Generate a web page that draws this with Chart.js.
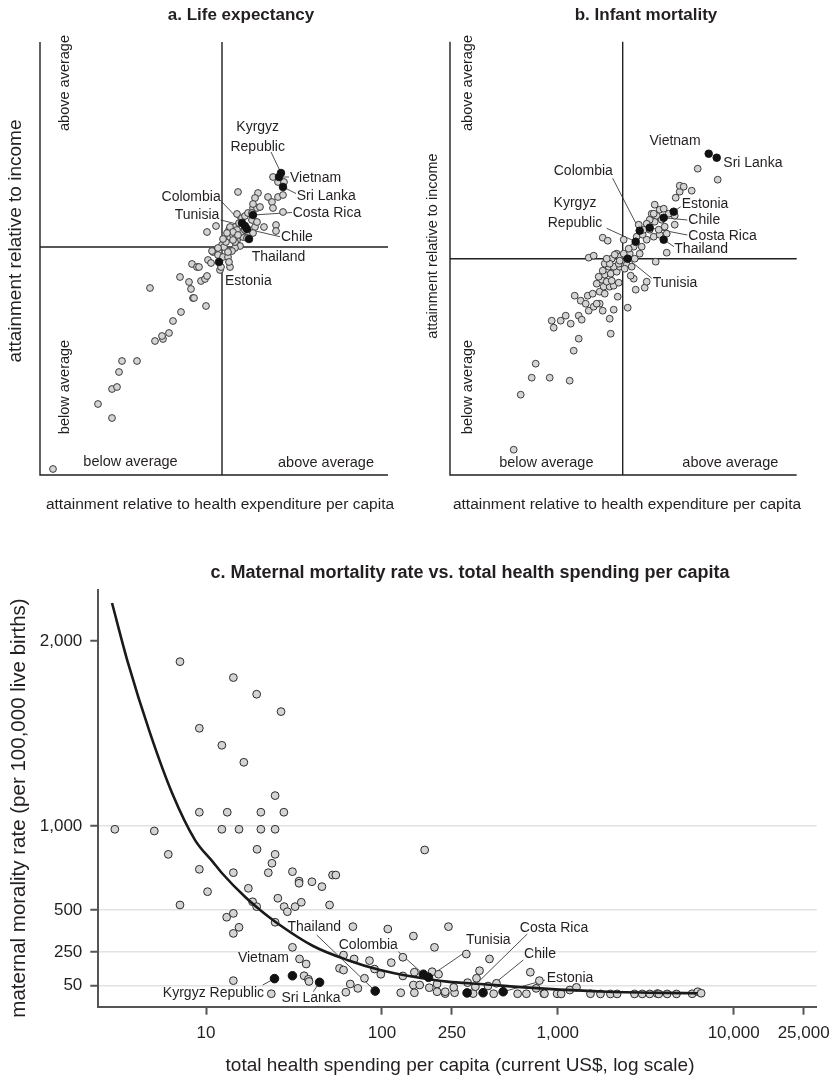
<!DOCTYPE html>
<html><head><meta charset="utf-8">
<script src="https://cdn.jsdelivr.net/npm/chart.js@4.4.0/dist/chart.umd.min.js"></script>
<style>
html,body{margin:0;padding:0;background:#fff;}
#wrap{position:relative;width:838px;height:1090px;overflow:hidden;}
canvas{position:absolute;}
</style></head><body>
<div id="wrap">
<canvas id="ca" width="419" height="530" style="left:0;top:0;width:419px;height:530px"></canvas>
<canvas id="cb" width="419" height="530" style="left:419px;top:0;width:419px;height:530px"></canvas>
<canvas id="cc" width="838" height="550" style="left:0;top:540px;width:838px;height:550px"></canvas>
</div>
<script>
// ---------------- DATA ----------------
const countries = ['Kyrgyz Republic','Vietnam','Sri Lanka','Thailand','Colombia','Tunisia','Costa Rica','Chile','Estonia'];

// a. Life expectancy (relative units; 0 = average)
const lifeHighX = [0.59,0.57,0.61,0.27,0.20,0.23,0.31,0.25,-0.03];
const lifeHighY = [0.74,0.70,0.60,0.08,0.24,0.21,0.32,0.18,-0.15];
const lifeOthers = [
[-1.69,-2.22],[-1.10,-1.71],[-1.24,-1.57],[-1.10,-1.42],[-1.05,-1.40],[-1.03,-1.25],[-1.00,-1.14],[-0.85,-1.14],[-0.67,-0.94],[-0.59,-0.92],[-0.60,-0.89],[-0.53,-0.86],[-0.49,-0.74],[-0.41,-0.65],[-0.72,-0.41],[-0.16,-0.59],[-0.29,-0.51],[-0.28,-0.51],[-0.31,-0.42],[-0.33,-0.35],[-0.42,-0.30],[-0.21,-0.34],[-0.17,-0.32],[-0.15,-0.29],[-0.30,-0.17],[-0.25,-0.20],[-0.23,-0.20],[-0.14,-0.13],[-0.11,-0.16],[-0.02,-0.23],[-0.01,-0.20],[-0.09,-0.05],[-0.04,-0.08],[0.01,-0.10],[0.06,-0.10],[0.08,-0.20],[0.07,-0.15],[-0.10,-0.04],[0.00,0.02],[0.02,0.00],[0.04,0.05],[0.08,0.10],[0.11,0.12],[0.15,0.07],[0.07,0.17],[0.13,0.20],[0.17,0.24],[0.15,0.33],[0.20,0.29],[0.23,0.31],[0.26,0.34],[0.31,0.39],[0.35,0.39],[0.38,0.40],[0.30,0.27],[0.33,0.20],[0.26,0.14],[0.21,0.10],[0.19,0.15],[0.15,0.17],[0.18,0.01],[0.13,-0.01],[0.10,-0.04],[0.06,-0.05],[0.13,0.05],[0.25,0.09],[0.31,0.14],[0.35,0.25],[0.42,0.20],[0.54,0.22],[0.54,0.16],[-0.06,0.21],[-0.15,0.15],[0.08,0.20],[0.11,0.15],[0.05,0.14],[0.01,0.08],[-0.04,-0.01],[0.16,0.55],[0.36,0.54],[0.33,0.49],[0.46,0.50],[0.50,0.45],[0.51,0.39],[0.56,0.50],[0.61,0.52],[0.61,0.35],[0.51,0.70],[0.56,0.65],[0.62,0.65],[0.11,0.07],[0.16,0.12],[0.23,0.17],[0.30,0.34],[0.31,0.43]
];

// b. Infant mortality (relative units; 0 = average)
const infantHighX = [0.13,0.86,0.94,0.41,0.17,0.05,0.27,0.41,0.51];
const infantHighY = [0.17,1.05,1.01,0.19,0.28,0.00,0.31,0.41,0.47];
const infantOthers = [
[-1.09,-1.91],[-1.02,-1.36],[-0.91,-1.19],[-0.87,-1.05],[-0.73,-1.19],[-0.53,-1.22],[-0.49,-0.92],[-0.44,-0.80],[-0.12,-0.75],[-0.69,-0.69],[-0.71,-0.62],[-0.62,-0.62],[-0.57,-0.57],[-0.52,-0.65],[-0.44,-0.57],[-0.41,-0.61],[-0.13,-0.60],[-0.20,-0.52],[-0.09,-0.51],[0.05,-0.49],[-0.34,-0.52],[-0.29,-0.48],[-0.23,-0.45],[-0.26,-0.45],[-0.42,-0.42],[-0.37,-0.45],[-0.48,-0.37],[-0.35,-0.37],[-0.30,-0.35],[-0.05,-0.38],[-0.23,-0.33],[-0.19,-0.28],[-0.13,-0.28],[-0.09,-0.27],[-0.04,-0.24],[-0.21,-0.21],[-0.16,-0.23],[-0.11,-0.22],[-0.18,-0.16],[-0.12,-0.15],[-0.20,-0.12],[-0.06,-0.13],[-0.03,-0.08],[-0.14,-0.08],[-0.09,-0.08],[-0.18,-0.05],[-0.11,0.00],[-0.06,0.05],[-0.03,0.02],[0.01,-0.05],[0.04,-0.06],[0.09,-0.08],[0.11,-0.20],[0.08,-0.17],[0.13,-0.31],[0.22,-0.29],[0.24,-0.23],[0.33,-0.03],[0.44,0.06],[-0.34,0.01],[-0.29,0.03],[-0.20,0.21],[-0.15,0.18],[0.01,0.19],[-0.08,0.04],[0.07,0.05],[0.12,0.00],[0.17,0.05],[0.19,0.12],[0.11,0.12],[0.14,0.22],[0.20,0.24],[0.24,0.19],[0.31,0.22],[0.37,0.24],[0.44,0.25],[0.36,0.29],[0.42,0.32],[0.32,0.37],[0.27,0.39],[0.24,0.35],[0.29,0.45],[0.34,0.43],[0.37,0.49],[0.32,0.54],[0.41,0.50],[0.46,0.45],[0.52,0.43],[0.52,0.34],[0.16,0.34],[0.21,0.29],[0.53,0.61],[0.57,0.67],[0.57,0.73],[0.61,0.72],[0.69,0.68],[0.75,0.90],[0.95,0.79],[-0.04,-0.05],[0.01,0.05],[0.06,0.10],[-0.13,-0.05],[-0.16,0.00],[-0.03,-0.02],[0.02,-0.10],[-0.24,-0.18],[-0.26,-0.25],[-0.18,-0.35],[0.27,0.29],[0.31,0.45],[0.39,0.39]
];

// c. Maternal mortality vs. total health spending per capita
const mmHighSpend = [24.5,31.0,44.2,91.6,172,184,305,376,489];
const mmHighRate  = [92,109,70,18,118,100,7,8,14];
const mmOthers = [
[3.03,980],[5.08,970],[6.10,831],[7.11,1888],[9.16,1528],[9.16,1074],[9.16,742],[10.2,609],[12.3,1436],[12.3,980],[13.2,1074],[14.3,1802],[14.3,722],[15.4,980],[16.4,1344],[17.4,629],[19.4,1712],[19.5,861],[20.5,1074],[20.5,980],[24.7,1164],[24.7,980],[24.7,831],[23.7,778],[22.6,722],[26.7,1618],[27.7,1074],[31.0,728],[33.8,672],[33.8,659],[40,668],[45.6,639],[52.4,708],[54.7,708],
[7.11,530],[18.4,549],[19.4,520],[25.6,570],[27.8,520],[29.0,490],[32.1,520],[34.8,546],[50.4,530],[13.1,457],[14.3,480],[15.4,397],[14.3,361],[24.7,427],[31.0,278],[34.0,209],[37.1,179],[36.1,109],[38.2,88],[38.5,75],[14.3,80],[23.5,2],
[68.4,401],[60.5,232],[69.5,209],[57.4,153],[60.5,143],[85,199],[79.6,94],[66.1,60],[73,34],[62.4,11],[90.8,149],[98.6,118],[113,187],[108,387],[131.6,219],[131.6,108],[128,8],[151,345],[153,130],[151,54],[153,8],[164,54],[193,133],[210,118],[186,38],[206,60],[206,14],[229,3],[199,278],[239,401],[259,8],[175,857],
[302,238],[409,209],[359,139],[345,94],[307,68],[256,40],[229,14],[330,3],[340,44],[401,48],[448,64],[432,2],[591,2],[663,2],[698,130],[786,80],[753,34],[832,3],[840,2],[991,2],[1045,1],[1170,24],[1277,40],[1534,2],[1749,1],[1992,1],[2174,1],[2729,1],[3020,1],[3334,1],[3673,3],[3752,1],[4188,1],[4729,1],[5808,2],[6250,14],[6534,5]
];
const fitSpend = [2.92,3.60,4.80,6.41,8.66,10.96,12.3,16.7,20.3,25.3,40.6,63.5,97.7,151,235,362,796,1914,6220];
const fitRate  = [2205,1881,1503,1178,916,785,720,577,500,423,286,203,143,103,74,60,34,14,5];
const spendTicks = [10,100,250,1000,10000,25000];
const rateTicks = [50,250,500,1000,2000];

// ---------------- STYLE / HELPERS ----------------
const FF = "'Liberation Sans', Arial, sans-serif";
Chart.defaults.font.family = FF;
const INK = '#231f20';

function txt(ctx, s, x, y, font, align, rot){
  ctx.save(); ctx.font = font; ctx.fillStyle = INK; ctx.textAlign = align || 'center'; ctx.textBaseline = 'middle';
  ctx.translate(x, y); if (rot) ctx.rotate(-Math.PI/2); ctx.fillText(s, 0, 0); ctx.restore();
}

function panelPlugin(spec){
  return {
    id: 'panel_' + spec.id,
    beforeDatasetsDraw(chart){
      const {ctx, chartArea:a, scales:{x, y}} = chart;
      ctx.save();
      if (spec.quadrants){
        ctx.strokeStyle = INK; ctx.lineWidth = 1.4;
        const x0 = x.getPixelForValue(0), y0 = y.getPixelForValue(0);
        ctx.beginPath();
        ctx.moveTo(a.left, a.top); ctx.lineTo(a.left, a.bottom); ctx.lineTo(a.right, a.bottom);
        ctx.moveTo(x0, a.top); ctx.lineTo(x0, a.bottom);
        ctx.moveTo(a.left, y0); ctx.lineTo(a.right, y0);
        ctx.stroke();
      }
      ctx.strokeStyle = '#222'; ctx.lineWidth = 0.8;
      spec.labels.forEach(l => {
        if (!l.leader) return;
        const el = chart.getDatasetMeta(spec.hiDs).data[l.idx];
        ctx.beginPath(); ctx.moveTo(l.leader[0], l.leader[1]); ctx.lineTo(el.x, el.y); ctx.stroke();
      });
      ctx.restore();
    },
    afterDatasetsDraw(chart){
      const ctx = chart.ctx;
      spec.texts.forEach(t => txt(ctx, t.s, t.x, t.y, t.font, t.align, t.rot));
      spec.labels.forEach(l => {
        const name = countries[l.idx];
        const lines = l.split ? name.split(' ') : [name];
        lines.forEach((ln, k) => txt(ctx, ln, l.x, l.y + k*20, spec.labelFont, l.align || 'left'));
      });
    }
  };
}

const ptGrey = {pointRadius:3.4, pointBackgroundColor:'#d4d4d4', pointBorderColor:'#2a2a2a', pointBorderWidth:0.9};
const ptBlack = {pointRadius:3.8, pointBackgroundColor:'#111', pointBorderColor:'#111', pointBorderWidth:0.9};
const baseOpts = {responsive:false, animation:false, events:[], plugins:{legend:{display:false}, tooltip:{enabled:false}, title:{display:false}}};

// ---------------- PANEL A ----------------
const specA = {
  id:'a', quadrants:true, hiDs:1, labelFont:'14px ' + FF,
  texts:[
    {s:'a. Life expectancy', x:241, y:15, font:'bold 17px ' + FF},
    {s:'attainment relative to income', x:16, y:241, font:'19px ' + FF, rot:true},
    {s:'attainment relative to health expenditure per capita', x:220, y:505, font:'15.5px ' + FF},
    {s:'above average', x:65, y:83, font:'14.5px ' + FF, rot:true},
    {s:'below average', x:65, y:387, font:'14.5px ' + FF, rot:true},
    {s:'below average', x:130.5, y:462, font:'14.5px ' + FF},
    {s:'above average', x:326, y:463, font:'14.5px ' + FF}
  ],
  labels:[
    {idx:0, split:true, x:257.7, y:126.7, align:'center', leader:[271,152]},
    {idx:1, x:290, y:177.7, leader:[289,177]},
    {idx:2, x:296.7, y:195.7, leader:[296,193.5]},
    {idx:6, x:292.7, y:212.7, leader:[292,212.5]},
    {idx:4, x:220.7, y:196.7, align:'right', leader:[221.7,201.7]},
    {idx:5, x:219.3, y:215, align:'right', leader:[220.7,220]},
    {idx:7, x:281, y:236.7, leader:[280,236.7]},
    {idx:3, x:251.7, y:256.7},
    {idx:8, x:225, y:280.7}
  ]
};
new Chart(document.getElementById('ca'), {
  type:'scatter',
  data:{datasets:[
    Object.assign({data: lifeOthers.map(([x,y]) => ({x, y})), order:2}, ptGrey),
    Object.assign({data: lifeHighX.map((x,i) => ({x, y: lifeHighY[i]})), order:1}, ptBlack)
  ]},
  options: Object.assign({}, baseOpts, {
    layout:{padding:{left:40, right:31, top:42, bottom:55}},
    scales:{x:{type:'linear', min:-1.82, max:1.66, display:false}, y:{type:'linear', min:-2.28, max:2.05, display:false}}
  }),
  plugins:[panelPlugin(specA)]
});

// ---------------- PANEL B ----------------
const specB = {
  id:'b', quadrants:true, hiDs:1, labelFont:'14px ' + FF,
  texts:[
    {s:'b. Infant mortality', x:227, y:15, font:'bold 17px ' + FF},
    {s:'attainment relative to income', x:14, y:246, font:'14.5px ' + FF, rot:true},
    {s:'attainment relative to health expenditure per capita', x:208, y:505, font:'15.5px ' + FF},
    {s:'above average', x:49.3, y:83, font:'14.5px ' + FF, rot:true},
    {s:'below average', x:49.3, y:387, font:'14.5px ' + FF, rot:true},
    {s:'below average', x:127.3, y:463, font:'14.5px ' + FF},
    {s:'above average', x:311.3, y:462.7, font:'14.5px ' + FF}
  ],
  labels:[
    {idx:1, x:256, y:140.7, align:'center'},
    {idx:2, x:304.3, y:162.7},
    {idx:4, x:164.3, y:170.7, align:'center', leader:[193.7,178.3]},
    {idx:0, split:true, x:156, y:202.7, align:'center', leader:[187.7,228.3]},
    {idx:8, x:262.7, y:204, leader:[261.7,206.7]},
    {idx:7, x:269.3, y:220, leader:[268.3,220]},
    {idx:6, x:269.3, y:235.7, leader:[268.3,235]},
    {idx:3, x:255.3, y:249.3, leader:[255,246.7]},
    {idx:5, x:233.7, y:283.3, leader:[232.7,278.3]}
  ]
};
new Chart(document.getElementById('cb'), {
  type:'scatter',
  data:{datasets:[
    Object.assign({data: infantOthers.map(([x,y]) => ({x, y})), order:2}, ptGrey),
    Object.assign({data: infantHighX.map((x,i) => ({x, y: infantHighY[i]})), order:1}, ptBlack)
  ]},
  options: Object.assign({}, baseOpts, {
    layout:{padding:{left:31, right:41.3, top:41.7, bottom:55}},
    scales:{x:{type:'linear', min:-1.727, max:1.74, display:false}, y:{type:'linear', min:-2.163, max:2.17, display:false}}
  }),
  plugins:[panelPlugin(specB)]
});

// ---------------- PANEL C ----------------
// y axis of the original is linear up to 1,000 and slightly stretched above it
const STRETCH = 1.1;
const warp = v => v <= 1000 ? v : 1000 + (v - 1000) * STRETCH;
const unwarp = u => u <= 1000 ? u : 1000 + (u - 1000) / STRETCH;
class StretchLinearScale extends Chart.LinearScale {
  getPixelForValue(value){
    if (value === null || value === undefined || isNaN(value)) return NaN;
    return super.getPixelForValue(warp(value));
  }
  getValueForPixel(pixel){ return unwarp(super.getValueForPixel(pixel)); }
}
StretchLinearScale.id = 'stretchLinear';
StretchLinearScale.defaults = Chart.LinearScale.defaults;
Chart.register(StretchLinearScale);

const fmt = v => Number(v).toLocaleString('en-US');
const specC = {
  id:'c', quadrants:false, hiDs:2, labelFont:'14px ' + FF,
  texts:[
    {s:'c. Maternal mortality rate vs. total health spending per capita', x:470, y:33.5, font:'bold 18px ' + FF},
    {s:'maternal morality rate (per 100,000 live births)', x:19, y:268, font:'20.5px ' + FF, rot:true},
    {s:'total health spending per capita (current US$, log scale)', x:460, y:526, font:'19px ' + FF}
  ],
  labels:[
    {idx:3, x:314.3, y:386.7, align:'center', leader:[316.7,395]},
    {idx:4, x:368.3, y:405, align:'center', leader:[398.3,411.7]},
    {idx:1, x:289, y:418.3, align:'right'},
    {idx:0, x:264, y:453.3, align:'right', leader:[262.7,445]},
    {idx:2, x:311, y:458.3, align:'center', leader:[313.3,451.7]},
    {idx:5, x:488.3, y:400, align:'center', leader:[468.3,410]},
    {idx:6, x:554, y:388.3, align:'center', leader:[527.3,394]},
    {idx:7, x:540, y:414, align:'center', leader:[523.3,420]},
    {idx:8, x:546.7, y:438.3, leader:[545,440]}
  ]
};
new Chart(document.getElementById('cc'), {
  type:'scatter',
  data:{datasets:[
    Object.assign({data: mmOthers.map(([x,y]) => ({x, y})), order:3}, {pointRadius:3.9, pointBackgroundColor:'#d4d4d4', pointBorderColor:'#2a2a2a', pointBorderWidth:1}),
    {data: fitSpend.map((x,i) => ({x, y: fitRate[i]})), showLine:true, pointRadius:0, borderColor:'#1a1a1a', borderWidth:2.6, cubicInterpolationMode:'monotone', fill:false, order:2},
    Object.assign({data: mmHighSpend.map((x,i) => ({x, y: mmHighRate[i]})), order:1}, {pointRadius:4.3, pointBackgroundColor:'#111', pointBorderColor:'#111', pointBorderWidth:1})
  ]},
  options: Object.assign({}, baseOpts, {
    layout:{padding:{left:38.3, right:20, top:50, bottom:43.3}},
    scales:{
      x:{type:'logarithmic', min:2.44, max:29650, bounds:'data',
         afterBuildTicks: s => { s.ticks = spendTicks.map(v => ({value:v})); },
         afterFit: s => { s.height = 40; },
         grid:{drawOnChartArea:false, drawTicks:true, tickLength:8, tickColor:'#555', tickWidth:2},
         border:{display:true, color:'#555', width:2},
         ticks:{autoSkip:false, maxRotation:0, padding:8, color:INK, font:{size:17}, callback: v => fmt(v)}},
      y:{type:'stretchLinear', min:-75, max:2403, bounds:'data',
         afterBuildTicks: s => { s.ticks = rateTicks.map(v => ({value:v})); },
         afterFit: s => { s.width = 60; },
         grid:{color: c => (c.tick && c.tick.value === 2000) ? 'rgba(0,0,0,0)' : '#e2e2e2', lineWidth:1.5, drawTicks:true, tickLength:8, tickColor:'#555', tickWidth:2},
         border:{display:true, color:'#555', width:2},
         ticks:{padding:8, color:INK, font:{size:17}, callback: v => fmt(v)}}
    }
  }),
  plugins:[panelPlugin(specC)]
});
</script>
</body></html>
